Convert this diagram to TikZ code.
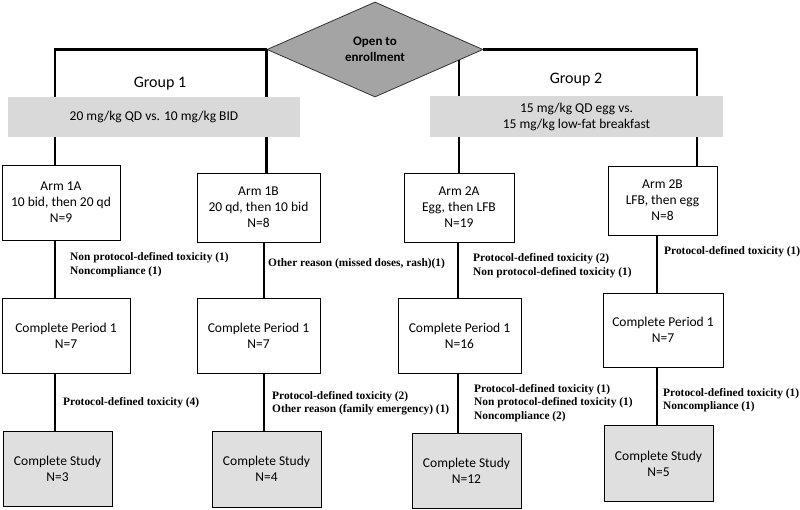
\documentclass[tikz,border=0pt]{standalone}
\usepackage{fontspec}
\setmainfont{Carlito}
\newfontfamily\reasonfont{Liberation Serif}
\usepackage{xcolor}
\usetikzlibrary{shapes.geometric,calc}
\definecolor{bandgray}{HTML}{D9D9D9}
\definecolor{studygray}{HTML}{DFDFDF}
\definecolor{enrollgray}{HTML}{A4A4A4}

\begin{document}
\begin{tikzpicture}[
    x=1pt, y=-1pt,
    box/.style={rectangle, draw, line width=0.9pt, fill=white, align=center, inner sep=2pt, font=\fontsize{13.5}{16}\selectfont},
    studybox/.style={box, fill=studygray},
    band/.style={rectangle, fill=bandgray, align=center, inner sep=0pt, font=\fontsize{13.5}{16}\selectfont},
    reason/.style={anchor=west, align=left, inner sep=0pt, font=\reasonfont\bfseries\fontsize{11.4}{13.5}\selectfont},
    conn/.style={line width=2.6pt}
]
    \useasboundingbox (0,0) rectangle (800,510);

    \node[diamond, draw=black!80, line width=0.8pt, fill=enrollgray, minimum width=216pt, minimum height=95pt, inner sep=0pt, aspect=2.3, align=center, font=\bfseries\fontsize{13}{15.5}\selectfont] (enroll) at (375,49.5) {Open to\\enrollment};

    \node[box, minimum width=118pt, minimum height=75pt] (arm1a) at (61,202.5) {Arm 1A\\10 bid, then 20 qd\\N=9};
    \node[box, minimum width=123pt, minimum height=69pt] (arm1b) at (258.5,207.5) {Arm 1B\\20 qd, then 10 bid\\N=8};
    \node[box, minimum width=110pt, minimum height=69pt] (arm2a) at (459,207.5) {Arm 2A\\Egg, then LFB\\N=19};
    \node[box, minimum width=109pt, minimum height=69pt] (arm2b) at (662.5,200.5) {Arm 2B\\LFB, then egg\\N=8};

    \node[box, minimum width=128pt, minimum height=75pt] (cp1a) at (66,335.5) {Complete Period 1\\N=7};
    \node[box, minimum width=123pt, minimum height=75pt] (cp1b) at (258.5,335.5) {Complete Period 1\\N=7};
    \node[box, minimum width=123pt, minimum height=75pt] (cp2a) at (459.5,335.5) {Complete Period 1\\N=16};
    \node[box, minimum width=120pt, minimum height=74pt] (cp2b) at (663,330) {Complete Period 1\\N=7};

    \node[studybox, minimum width=109pt, minimum height=75pt] (cs1a) at (57.5,468.5) {Complete Study\\N=3};
    \node[studybox, minimum width=109pt, minimum height=76pt] (cs1b) at (266.5,469) {Complete Study\\N=4};
    \node[studybox, minimum width=109pt, minimum height=75pt] (cs2a) at (466.5,470.5) {Complete Study\\N=12};
    \node[studybox, minimum width=109pt, minimum height=76pt] (cs2b) at (658.5,463.5) {Complete Study\\N=5};

    \coordinate (col1) at (55,0);
    \coordinate (col2) at (264,0);
    \coordinate (col3) at (458,0);
    \coordinate (col4) at (657,0);
    \coordinate (col4top) at (697,0);
    \coordinate (g2a) at ($(enroll.south)!0.775!(enroll.east)$);

    \draw[conn] (enroll.west) -| (arm1a.north -| col1);
    \draw[conn] (enroll.west) -- (arm1b.north -| enroll.west);
    \draw[conn] (enroll.east) -| (arm2b.north -| col4top);
    \draw[conn] (arm2a.north) -- (arm2a.north |- g2a);

    \draw[conn] (arm1a.south -| col1) -- (cp1a.north -| col1);
    \draw[conn] (cp1a.south -| col1) -- (cs1a.north -| col1);
    \draw[conn] (arm1b.south -| col2) -- (cp1b.north -| col2);
    \draw[conn] (cp1b.south -| col2) -- (cs1b.north -| col2);
    \draw[conn] (arm2a.south -| col3) -- (cp2a.north -| col3);
    \draw[conn] (cp2a.south -| col3) -- (cs2a.north -| col3);
    \draw[conn] (arm2b.south -| col4) -- (cp2b.north -| col4);
    \draw[conn] (cp2b.south -| col4) -- (cs2b.north -| col4);

    \node[band, minimum width=292pt, minimum height=40pt] (band1) at (154,117) {20 mg/kg QD vs. 10 mg/kg BID};
    \node[band, minimum width=293pt, minimum height=41pt] (band2) at (576.5,116.5) {15 mg/kg QD egg vs.\\15 mg/kg low-fat breakfast};
    \node[font=\fontsize{16}{19}\selectfont] (group1) at (160,84) {Group 1};
    \node[font=\fontsize{16}{19}\selectfont] (group2) at (576,80) {Group 2};

    \node[reason] (r1a) at (70,264.5) {Non protocol-defined toxicity (1)\\Noncompliance (1)};
    \node[reason] (r1b) at (268,264) {Other reason (missed doses, rash)(1)};
    \node[reason] (r2a) at (473,265.5) {Protocol-defined toxicity (2)\\Non protocol-defined toxicity (1)};
    \node[reason] (r2b) at (664,252) {Protocol-defined toxicity (1)};
    \node[reason] (s1a) at (63,403) {Protocol-defined toxicity (4)};
    \node[reason] (s1b) at (272,403) {Protocol-defined toxicity (2)\\Other reason (family emergency) (1)};
    \node[reason] (s2a) at (474,403) {Protocol-defined toxicity (1)\\Non protocol-defined toxicity (1)\\Noncompliance (2)};
    \node[reason] (s2b) at (663,400) {Protocol-defined toxicity (1)\\Noncompliance (1)};
\end{tikzpicture}
\end{document}
